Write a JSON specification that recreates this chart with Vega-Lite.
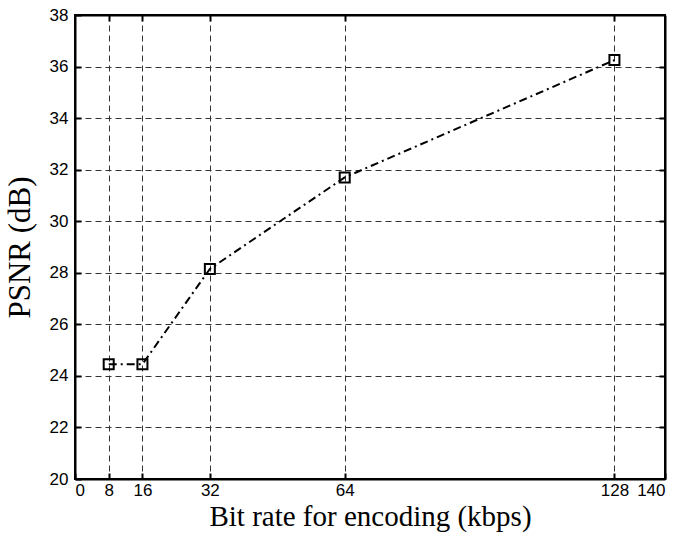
{
  "$schema": "https://vega.github.io/schema/vega-lite/v6.json",
  "width": 590,
  "height": 464,
  "autosize": {"type": "none"},
  "padding": {"left": 75, "top": 15, "right": 16, "bottom": 60},
  "background": "white",
  "config": {
    "view": {"stroke": "black", "strokeWidth": 2},
    "axis": {
      "labelFont": "Liberation Sans",
      "labelFontSize": 17,
      "labelColor": "black",
      "titleFont": "Liberation Serif",
      "titleFontWeight": "normal",
      "titleColor": "black",
      "gridColor": "#333",
      "gridDash": [6, 4],
      "gridWidth": 1,
      "gridOpacity": 1,
      "domainColor": "black",
      "domainWidth": 2,
      "tickColor": "black",
      "tickWidth": 2,
      "tickSize": -6
    }
  },
  "data": {
    "values": [
      {"rate": 8, "psnr": 24.45},
      {"rate": 16, "psnr": 24.45},
      {"rate": 32, "psnr": 28.15},
      {"rate": 64, "psnr": 31.7},
      {"rate": 128, "psnr": 36.25}
    ]
  },
  "resolve": {"axis": {"x": "independent", "y": "independent"}},
  "layer": [
    {
      "mark": {"type": "line", "color": "black", "strokeWidth": 2, "strokeDash": [8, 4, 2, 4]},
      "encoding": {
        "x": {
          "field": "rate",
          "type": "quantitative",
          "scale": {"domain": [0, 140], "nice": false, "zero": false},
          "axis": {
            "title": "Bit rate for encoding (kbps)",
            "titleFontSize": 29,
            "grid": true,
            "values": [0, 8, 16, 32, 64, 128, 140],
            "labelPadding": 9,
            "titlePadding": 4
          }
        },
        "y": {
          "field": "psnr",
          "type": "quantitative",
          "scale": {"domain": [20, 38], "nice": false, "zero": false},
          "axis": {
            "title": "PSNR (dB)",
            "titleFontSize": 31,
            "grid": true,
            "values": [20, 22, 24, 26, 28, 30, 32, 34, 36, 38],
            "labelPadding": 13,
            "titlePadding": 13
          }
        }
      }
    },
    {
      "mark": {"type": "point", "shape": "square", "filled": false, "color": "black", "strokeWidth": 2, "size": 100, "opacity": 1},
      "encoding": {
        "x": {
          "field": "rate",
          "type": "quantitative",
          "axis": {
            "orient": "top",
            "title": null,
            "labels": false,
            "grid": false,
            "values": [8, 16, 32, 64, 128]
          }
        },
        "y": {
          "field": "psnr",
          "type": "quantitative",
          "axis": {
            "orient": "right",
            "title": null,
            "labels": false,
            "grid": false,
            "values": [22, 24, 26, 28, 30, 32, 34, 36]
          }
        }
      }
    }
  ]
}
